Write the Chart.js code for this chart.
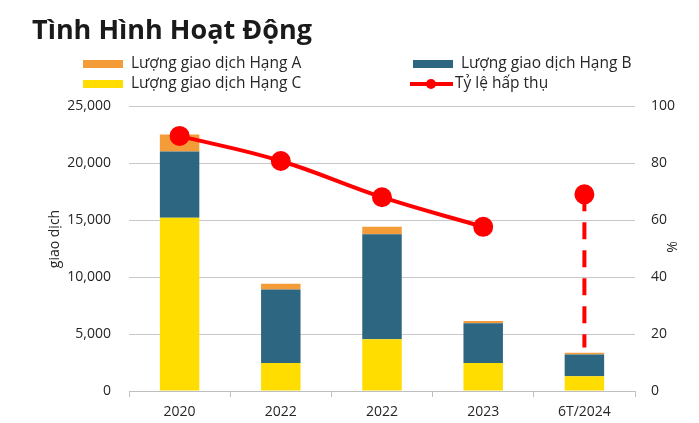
<!DOCTYPE html>
<html>
<head>
<meta charset="utf-8">
<script src="https://cdn.jsdelivr.net/npm/chart.js@4"></script>
<style>
  html, body { margin: 0; padding: 0; background: #fff; }
  #wrap { position: relative; width: 699px; height: 423px; }
</style>
</head>
<body>
<div id="wrap"><canvas id="chart" width="699" height="423"></canvas></div>
<script>
const categories = ['2020', '2022', '2022', '2023', '6T/2024'];
const hangC = [15200, 2450, 4550, 2450, 1300];
const hangB = [5800, 6450, 9200, 3500, 1900];
const hangA = [1500, 500, 650, 200, 150];
const tyLe = [89.5, 80.7, 68.0, 57.6, null];
const tyLe2024 = [69.0, 15.3];   // điểm 6T/2024 và đầu dưới đường nét đứt
const leftTicks = [0, 5000, 10000, 15000, 20000, 25000];
const rightTicks = [0, 20, 40, 60, 80, 100];

const FONT = '"Open Sans", "Noto Sans", sans-serif';
const TEXT = '#262626';

// title, legend and axis titles drawn on the canvas
const decor = {
  id: 'decor',
  afterDraw(chart) {
    const c = chart.ctx;
    const ds = chart.data.datasets;
    c.save();
    c.fillStyle = '#1a1a1a';
    c.font = 'bold 27px ' + FONT;
    c.textBaseline = 'middle';
    c.textAlign = 'left';
    c.fillText('Tình Hình Hoạt Động', 32, 31);

    c.font = '15.5px ' + FONT;
    const boxes = [
      { d: ds[2], x: 83, y: 64 },
      { d: ds[1], x: 413, y: 64 },
      { d: ds[0], x: 83, y: 84 }
    ];
    boxes.forEach(b => {
      c.fillStyle = b.d.backgroundColor;
      c.fillRect(b.x, b.y - 4, 40, 8);
      c.fillStyle = TEXT;
      c.fillText(b.d.label, b.x + 48, b.y);
    });
    c.strokeStyle = ds[3].borderColor;
    c.lineWidth = 4;
    c.beginPath();
    c.moveTo(410, 84);
    c.lineTo(453, 84);
    c.stroke();
    c.fillStyle = ds[3].borderColor;
    c.beginPath();
    c.arc(431, 84, 5, 0, Math.PI * 2);
    c.fill();
    c.fillStyle = TEXT;
    c.fillText(ds[3].label, 455, 84);

    c.font = '14px ' + FONT;
    c.textAlign = 'center';
    c.translate(55, 239);
    c.rotate(-Math.PI / 2);
    c.fillText('giao dịch', 0, 0);
    c.restore();

    c.save();
    c.font = '14px ' + FONT;
    c.fillStyle = TEXT;
    c.textAlign = 'center';
    c.textBaseline = 'middle';
    c.translate(673, 247);
    c.rotate(-Math.PI / 2);
    c.fillText('%', 0, 0);
    c.restore();
  }
};

new Chart(document.getElementById('chart').getContext('2d'), {
  type: 'bar',
  data: {
    labels: categories,
    datasets: [
      {
        label: 'Lượng giao dịch Hạng C',
        data: hangC,
        backgroundColor: '#FFDD00',
        stack: 's',
        order: 2
      },
      {
        label: 'Lượng giao dịch Hạng B',
        data: hangB,
        backgroundColor: '#2D6680',
        stack: 's',
        order: 2
      },
      {
        label: 'Lượng giao dịch Hạng A',
        data: hangA,
        backgroundColor: '#F39C38',
        stack: 's',
        order: 2
      },
      {
        type: 'line',
        label: 'Tỷ lệ hấp thụ',
        data: tyLe,
        yAxisID: 'y1',
        borderColor: '#FF0000',
        backgroundColor: '#FF0000',
        borderWidth: 4,
        tension: 0.4,
        pointRadius: 8,
        pointHoverRadius: 8,
        spanGaps: false,
        order: 1
      },
      {
        type: 'line',
        label: 'Tỷ lệ hấp thụ 6T/2024',
        data: [
          { x: categories[4], y: tyLe2024[0] },
          { x: categories[4], y: tyLe2024[1] }
        ],
        yAxisID: 'y1',
        borderColor: '#FF0000',
        backgroundColor: '#FF0000',
        borderWidth: 4,
        borderDash: [17, 11],
        pointRadius: [8, 0],
        order: 0
      }
    ]
  },
  options: {
    responsive: false,
    animation: false,
    layout: { padding: { top: 106, left: 0, right: 0, bottom: 0 } },
    plugins: {
      legend: { display: false },
      tooltip: { enabled: false }
    },
    datasets: {
      bar: { barPercentage: 0.39, categoryPercentage: 1 }
    },
    scales: {
      x: {
        stacked: true,
        offset: true,
        grid: {
          offset: true,
          drawOnChartArea: false,
          drawTicks: true,
          tickLength: 6,
          color: '#BFBFBF'
        },
        border: { color: '#BFBFBF' },
        ticks: { color: TEXT, font: { family: FONT, size: 14 }, padding: 7 },
        afterFit(s) { s.height = 32; }
      },
      y: {
        stacked: true,
        min: 0,
        max: 25000,
        afterBuildTicks(s) { s.ticks = leftTicks.map(v => ({ value: v })); },
        grid: { color: '#C8C8C8', drawTicks: false },
        border: { display: false },
        ticks: {
          color: TEXT,
          font: { family: FONT, size: 14 },
          padding: 18,
          callback: v => v.toLocaleString('en-US')
        },
        afterFit(s) { s.width = 129; }
      },
      y1: {
        position: 'right',
        min: 0,
        max: 100,
        afterBuildTicks(s) { s.ticks = rightTicks.map(v => ({ value: v })); },
        grid: { drawOnChartArea: false, drawTicks: false },
        border: { display: false },
        ticks: { color: TEXT, font: { family: FONT, size: 14 }, padding: 16 },
        afterFit(s) { s.width = 64; }
      }
    }
  },
  plugins: [decor]
});
</script>
</body>
</html>
